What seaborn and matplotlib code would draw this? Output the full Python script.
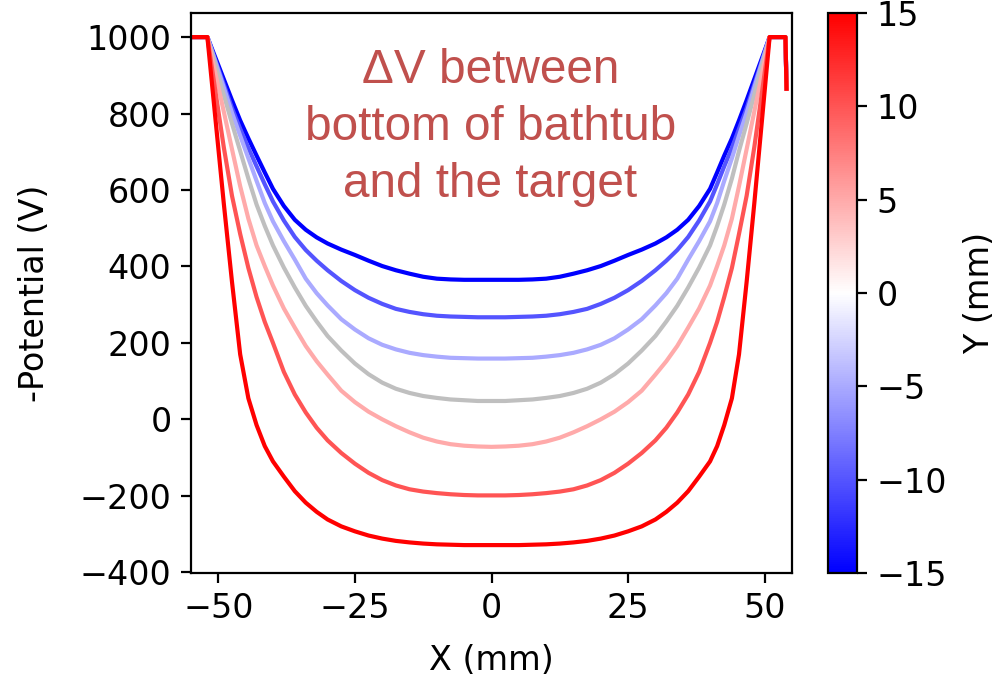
import numpy as np
import pandas as pd
import matplotlib
matplotlib.use("Agg")
import matplotlib.pyplot as plt
import seaborn as sns
from matplotlib import colors as mcolors
from matplotlib.cm import ScalarMappable

# ---------------- data ----------------
x_mm = [-55.5, -52, -50.5, -49, -47.5, -46, -44.5, -43, -41.5, -40, -38, -36, -34,
        -32, -30, -27.5, -25, -22.5, -20, -17.5, -15, -12.5, -10, -7.5, -5, -2.5,
        0,
        2.5, 5, 7.5, 10, 12.5, 15, 17.5, 20, 22.5, 25, 27.5, 30, 32, 34, 36, 38, 40,
        41.3, 42.6, 44.0, 45.3, 46.7, 48.1, 49.5, 50.9, 53.8, 54.0]

y_levels = [-15, -10, -5, 0, 5, 10, 15]

pot_m15 = [1000, 1000, 945, 890, 835, 782, 735, 690, 646, 603, 558, 522, 496,
           476, 460, 444, 430, 415, 401, 390, 381, 373, 368, 366, 365, 365,
           365,
           365, 365, 366, 368, 373, 381, 390, 401, 415, 430, 444, 460, 476, 496, 522, 558, 603,
           646, 690, 735, 782, 835, 890, 945, 1000, 1000, 865]
pot_m10 = [1000, 1000, 938, 876, 814, 760, 710, 662, 615, 570, 520, 477, 443,
           415, 390, 362, 338, 318, 302, 289, 281, 275, 271, 269, 268, 267,
           267,
           267, 268, 269, 271, 275, 281, 289, 302, 318, 338, 362, 390, 415, 443, 477, 520, 570,
           615, 662, 710, 760, 814, 876, 938, 1000, 1000, 865]
pot_m5 = [1000, 1000, 934, 868, 802, 742, 683, 624, 566, 518, 466, 418, 368,
          330, 298, 262, 235, 212, 195, 183, 174, 168, 164, 161, 160, 159,
          159,
          159, 160, 161, 164, 168, 174, 183, 195, 212, 235, 262, 298, 330, 368, 418, 466, 518,
          566, 624, 683, 742, 802, 868, 934, 1000, 1000, 865]
pot_0 = [1000, 1000, 925, 849, 774, 702, 630, 562, 506, 455, 397, 345, 297,
         256, 218, 180, 146, 118, 96, 80, 69, 61, 56, 52, 50, 48,
         48,
         48, 50, 52, 56, 61, 69, 80, 96, 118, 146, 180, 218, 256, 297, 345, 397, 455,
         506, 562, 630, 702, 774, 849, 925, 1000, 1000, 865]
pot_p5 = [1000, 1000, 903, 805, 707, 610, 525, 455, 401, 350, 290, 240, 192,
          152, 117, 75, 45, 20, 0, -18, -34, -48, -58, -65, -69, -71,
          -72,
          -71, -69, -65, -58, -48, -34, -18, 0, 20, 45, 75, 117, 152, 192, 240, 290, 350,
          401, 455, 525, 610, 707, 805, 903, 1000, 1000, 865]
pot_p10 = [1000, 1000, 855, 712, 585, 485, 396, 320, 255, 200, 124, 65, 18,
           -22, -55, -88, -116, -140, -159, -173, -183, -189, -193, -196, -198, -199,
           -199,
           -199, -198, -196, -193, -189, -183, -173, -159, -140, -116, -88, -55, -22, 18, 65, 124, 200,
           255, 320, 396, 485, 585, 712, 855, 1000, 1000, 865]
pot_p15 = [1000, 1000, 782, 565, 360, 170, 55, -15, -70, -110, -150, -188, -218,
           -242, -262, -280, -293, -304, -312, -318, -322, -325, -327, -328, -329, -329,
           -329,
           -329, -329, -328, -327, -325, -322, -318, -312, -304, -293, -280, -262, -242, -218, -188, -150, -110,
           -70, -15, 55, 170, 360, 565, 782, 1000, 1000, 865]

cbar_ticks = [-15, -10, -5, 0, 5, 10, 15]
annot_lines = ["\u0394V between", "bottom of bathtub", "and the target"]

# ---------------- build long table ----------------
series = [pot_m15, pot_m10, pot_m5, pot_0, pot_p5, pot_p10, pot_p15]
frames = []
for yv, vals in zip(y_levels, series):
    frames.append(pd.DataFrame({"x": x_mm, "V": vals, "Y": yv}))
df = pd.concat(frames, ignore_index=True)

cmap = plt.get_cmap("bwr")
norm = mcolors.Normalize(vmin=-15, vmax=15)
palette = {yv: (cmap(norm(yv)) if yv != 0 else (0.75, 0.75, 0.75, 1.0)) for yv in y_levels}

plt.rcParams["font.size"] = 12

# ---------------- figure ----------------
fig = plt.figure(figsize=(1003 / 200, 682 / 200), dpi=200)
ax = fig.add_axes([191 / 1003, 109 / 682, 601 / 1003, 560 / 682])
cax = fig.add_axes([828 / 1003, 109 / 682, 29 / 1003, 560 / 682])

sns.lineplot(data=df, x="x", y="V", hue="Y", hue_order=y_levels, palette=palette,
             estimator=None, sort=False, legend=False, linewidth=1.5, ax=ax)

ax.set_xlim(-55, 55)
ax.set_ylim(-402, 1063)
ax.set_xticks([-50, -25, 0, 25, 50])
ax.set_yticks([-400, -200, 0, 200, 400, 600, 800, 1000])
ax.set_xlabel("X (mm)")
ax.set_ylabel("-Potential (V)")
ax.yaxis.set_label_coords(-0.233, 0.5)
ax.xaxis.set_label_coords(0.5, -0.127)

sm = ScalarMappable(norm=norm, cmap=cmap)
sm.set_array([])
cb = fig.colorbar(sm, cax=cax, ticks=cbar_ticks)
cb.set_label("Y (mm)")
cb.ax.yaxis.set_label_coords(4.65, 0.5)

tcol = "#C0504D"
for txt, yf in zip(annot_lines, [0.875, 0.773, 0.671]):
    ax.text(0.498, yf, txt, transform=ax.transAxes, ha="center", va="baseline",
            fontsize=17.2, color=tcol, family="Liberation Sans")

fig.savefig("out.png", dpi=200)
